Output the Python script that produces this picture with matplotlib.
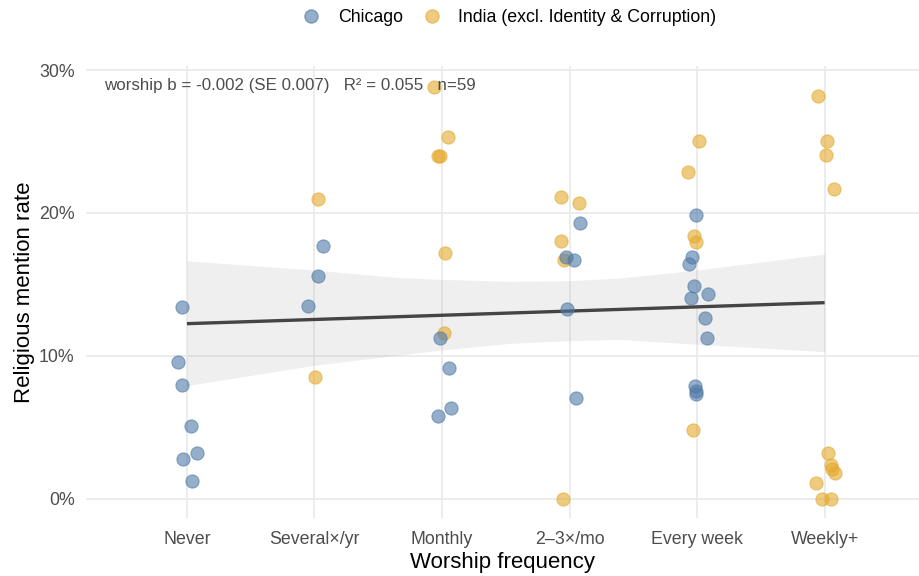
import numpy as np
import matplotlib
matplotlib.use("Agg")
import matplotlib.pyplot as plt
from matplotlib.lines import Line2D

plt.rcParams['font.family'] = ['Liberation Sans', 'DejaVu Sans']

##################################### DATA ###########################################
categories = ["Never", "Several×/yr", "Monthly", "2–3×/mo", "Every week", "Weekly+"]

# Chicago: category index, jitter (category units), mention rate (%)
chi_cat = [0, 0, 0, 0, 0, 0, 0,
           1, 1, 1,
           2, 2, 2, 2,
           3, 3, 3, 3, 3,
           4, 4, 4, 4, 4, 4, 4, 4, 4, 4, 4]
chi_jit = [-0.037, -0.071, -0.042, 0.029, -0.029, 0.081, 0.042,
           0.065, 0.031, -0.052,
           -0.018, 0.055, 0.071, -0.031,
           0.078, -0.026, 0.034, -0.021, 0.047,
           -0.008, -0.037, -0.060, -0.021, 0.084, -0.047, 0.060, 0.080, -0.016, -0.008, -0.010]
chi_val = [13.45, 9.58, 7.97, 5.13, 2.82, 3.19, 1.26,
           17.69, 15.60, 13.47,
           11.23, 9.14, 6.39, 5.78,
           19.32, 16.90, 16.71, 13.31, 7.04,
           19.84, 16.92, 16.46, 14.90, 14.31, 14.08, 12.63, 11.26, 7.93, 7.58, 7.34]

# India (excl. Identity & Corruption)
ind_cat = [1, 1,
           2, 2, 2, 2, 2, 2,
           3, 3, 3, 3, 3,
           4, 4, 4, 4, 4,
           5, 5, 5, 5, 5, 5, 5, 5, 5, 5, 5]
ind_jit = [0.024, 0.005,
           -0.065, 0.045, -0.030, -0.016, 0.024, 0.018,
           -0.071, 0.073, -0.071, -0.042, -0.055,
           0.016, -0.068, -0.024, -0.005, -0.031,
           -0.055, 0.018, 0.010, 0.071, 0.026, 0.047, 0.057, 0.081, -0.071, -0.024, 0.047]
ind_val = [20.95, 8.55,
           28.79, 25.30, 24.00, 23.97, 17.18, 11.58,
           21.10, 20.68, 18.06, 16.71, 0.00,
           25.03, 22.84, 18.39, 18.00, 4.80,
           28.18, 25.03, 24.03, 21.70, 3.19, 2.38, 2.07, 1.84, 1.10, 0.00, 0.00]

# fitted line and confidence band (%)
fit_x = [0, 5]
fit_y = [12.26, 13.73]
band_x = [0, 1, 1.67, 2, 2.54, 3, 3.39, 4, 5]
band_lo = [7.93, 9.35, 10.07, 10.42, 10.89, 11.07, 11.16, 10.82, 10.30]
band_hi = [16.66, 16.01, 15.48, 15.36, 15.22, 15.27, 15.45, 16.01, 17.13]

annot = "worship b = -0.002 (SE 0.007)   R² = 0.055   n=59"
######################################################################################

blue = "#4E79A7"
gold = "#E3A92B"
grid_col = "#EBEBEB"
tick_col = "#4D4D4D"

fig = plt.figure(figsize=(9.19, 5.76), dpi=100)
ax = fig.add_axes([85.7 / 919, 1 - 518 / 576, 1 - 85.7 / 919, (518 - 66) / 576])

ax.fill_between(band_x, band_lo, band_hi, color="#999999", alpha=0.15, lw=0, zorder=2)
ax.plot(fit_x, fit_y, color="#444444", lw=2.4, zorder=3, solid_capstyle="butt")

ax.scatter(np.array(ind_cat) + np.array(ind_jit), ind_val, s=90, color=gold, alpha=0.6,
           edgecolors=gold, linewidths=0.8, zorder=4)
ax.scatter(np.array(chi_cat) + np.array(chi_jit), chi_val, s=90, color=blue, alpha=0.6,
           edgecolors=blue, linewidths=0.8, zorder=5)

ax.set_xlim(-0.794, 5.74)
ax.set_ylim(-1.33, 30.28)
ax.set_xticks(range(len(categories)))
ax.set_xticklabels(categories)
ax.set_yticks([0, 10, 20, 30])
ax.set_yticklabels(["0%", "10%", "20%", "30%"])

ax.grid(True, color=grid_col, lw=1.3, zorder=0)
ax.set_axisbelow(True)
for s in ax.spines.values():
    s.set_visible(False)
ax.tick_params(length=0, labelsize=12.8, labelcolor=tick_col, pad=9)
ax.tick_params(axis="y", pad=8)

ax.set_xlabel("Worship frequency", fontsize=16, labelpad=3)
ax.set_ylabel("Religious mention rate", fontsize=16, labelpad=3)

ax.text(-0.65, 28.95, annot, fontsize=12.2, color=tick_col, ha="left", va="center", zorder=6)

handles = [
    Line2D([], [], marker="o", ls="", color=blue, alpha=0.6, markersize=9.5, label="Chicago"),
    Line2D([], [], marker="o", ls="", color=gold, alpha=0.6, markersize=9.5,
           label="India (excl. Identity & Corruption)"),
]
fig.legend(handles=handles, loc="center", bbox_to_anchor=(505 / 919, 1 - 18 / 576), ncol=2,
           frameon=False, fontsize=12.8, handletextpad=0.5, columnspacing=0.6)

fig.savefig("out.png", dpi=100)
